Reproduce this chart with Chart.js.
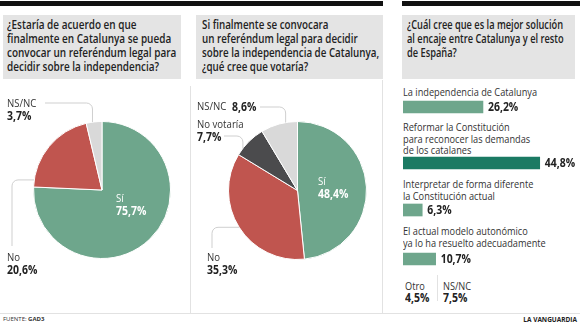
<!DOCTYPE html>
<html>
<head>
<meta charset="utf-8">
<script src="https://cdn.jsdelivr.net/npm/chart.js@4.4.1/dist/chart.umd.min.js"></script>
<style>
  html, body { margin: 0; padding: 0; background: #fff; }
  body { width: 580px; height: 326px; position: relative; overflow: hidden;
    font-family: "Open Sans", sans-serif; color: #222; }
  .abs { position: absolute; }
  .rule { background: #111; height: 5px; top: 1px; }
  .title { background: #e4e4e4; top: 15px; height: 64px; box-sizing: border-box; padding-top: 3px; }
  .title span { display: block; font-size: 12.5px; font-weight: 600; line-height: 14px; white-space: nowrap;
    color: #222; transform-origin: 0 0; }
  .vline { background: #e2e2e2; width: 1px; }
  .row { left: 403px; font-size: 11px; line-height: 11.6px; color: #333; white-space: nowrap; transform-origin: 0 0; }
  .sm { font-size: 11px; line-height: 11px; color: #333; transform-origin: 0 0; }
  .sm b { font-size: 12.5px; color: #222; display: block; margin-top: 1px; }
  canvas { position: absolute; }
</style>
</head>
<body>
<div class="abs rule" style="left:0;width:383px"></div>
<div class="abs rule" style="left:402px;width:178px"></div>

<div class="abs title" style="left:3px;width:178px;padding-left:4px"><span data-w="169">¿Estaría de acuerdo en que<br>finalmente en Catalunya se pueda<br>convocar un referéndum legal para<br>decidir sobre la independencia?</span></div>
<div class="abs title" style="left:196px;width:187px;padding-left:6px"><span data-w="177">Si finalmente se convocara<br>un referéndum legal para decidir<br>sobre la independencia de Catalunya,<br>¿qué cree que votaría?</span></div>
<div class="abs title" style="left:402px;width:173px;padding-left:5px"><span data-w="157">¿Cuál cree que es la mejor solución<br>al encaje entre Catalunya y el resto<br>de España?</span></div>

<div class="abs vline" style="left:190px;top:86px;height:227px"></div>
<div class="abs vline" style="left:382px;top:80px;height:233px"></div>
<div class="abs" style="left:0;top:313px;width:580px;height:1px;background:#e2e2e2"></div>

<canvas id="pie1" width="190" height="233" style="left:0;top:80px"></canvas>
<canvas id="pie2" width="192" height="233" style="left:190px;top:80px"></canvas>
<div id="bars"></div>

<div class="abs sm" id="s0" style="left:405px;top:280px"></div>
<div class="abs vline" style="left:437px;top:275px;height:26px"></div>
<div class="abs sm" id="s1" style="left:443px;top:280px"></div>

<div class="abs" style="left:3px;top:315px;font-size:6px;color:#333">FUENTE: <b>GAD3</b></div>
<div class="abs" style="right:3px;top:315px;font-size:6.5px;font-weight:bold;color:#222">LA VANGUARDIA</div>

<script>
// survey values (percent)
const pieOneLabels = ["Sí", "No", "NS/NC"];
const pieOneValues = [75.7, 20.6, 3.7];
const pieTwoLabels = ["Sí", "No", "No votaría", "NS/NC"];
const pieTwoValues = [48.4, 35.3, 7.7, 8.6];
const barLabels = [
  ["La independencia de Catalunya"],
  ["Reformar la Constitución", "para reconocer las demandas", "de los catalanes"],
  ["Interpretar de forma diferente", "la Constitución actual"],
  ["El actual modelo autonómico", "ya lo ha resuelto adecuadamente"],
];
const barValues = [26.2, 44.8, 6.3, 10.7];
const otherLabels = ["Otro", "NS/NC"];
const otherValues = [4.5, 7.5];

const C = { green: "#6ea68c", teal: "#1b7a63", red: "#c0554f", light: "#d9d9d9", dark: "#4b4b4d", line: "#cfcfcf" };
const FONT = '"Open Sans", sans-serif';
const fmt = (v) => v.toFixed(1).replace(".", ",") + "%";
const base = { responsive: false, animation: false, devicePixelRatio: 1, events: [],
  plugins: { legend: { display: false }, tooltip: { enabled: false } } };

// the paper uses a condensed face; squeeze Open Sans to the same widths
const probe = document.createElement("canvas").getContext("2d");
function fitScale(str, font, w) { probe.font = font; return w / probe.measureText(str).width; }
const SX = fitScale("La independencia de Catalunya", "11px " + FONT, 134);
document.querySelectorAll(".title span").forEach((el) => {
  el.style.transform = "scaleX(" + (+el.dataset.w / el.scrollWidth) + ")";
});

function squeezed(ctx, txt, x, y) {
  ctx.save(); ctx.translate(x, y); ctx.scale(SX, 1); ctx.fillText(txt, 0, 0); ctx.restore();
}

// labels + leader lines for a pie; spot per slice (canvas coords)
function pieText(spots) {
  return {
    id: "pieText",
    afterDatasetsDraw(chart) {
      const ctx = chart.ctx, arcs = chart.getDatasetMeta(0).data;
      const names = chart.data.labels, vals = chart.data.datasets[0].data;
      ctx.save();
      ctx.textBaseline = "middle";
      spots.forEach((s, i) => {
        const a = arcs[i];
        if (s.lead) {
          const L = s.lead;
          const ang = a.startAngle + (a.endAngle - a.startAngle) * L.f;
          const px = a.x + a.outerRadius * Math.cos(ang), py = a.y + a.outerRadius * Math.sin(ang);
          const ex = L.dir === "down" ? px : L.x, ey = L.dir === "down" ? L.y : py;
          ctx.beginPath(); ctx.strokeStyle = C.line; ctx.lineWidth = 1;
          ctx.moveTo(L.x, L.y); ctx.arcTo(ex, ey, px, py, 6); ctx.lineTo(px, py); ctx.stroke();
        }
        ctx.fillStyle = s.inside ? "#fff" : "#333";
        ctx.font = "11.5px " + FONT;
        squeezed(ctx, names[i], s.x, s.y);
        ctx.fillStyle = s.inside ? "#fff" : "#222";
        ctx.font = "bold 12.5px " + FONT;
        if (s.inline) squeezed(ctx, fmt(vals[i]), s.inline, s.y);
        else squeezed(ctx, fmt(vals[i]), s.x, s.y + 12);
      });
      ctx.restore();
    },
  };
}

function pie(id, labels, values, colors, pad, spots) {
  new Chart(document.getElementById(id), {
    type: "pie",
    data: { labels, datasets: [{ data: values, backgroundColor: colors, borderColor: "#fff", borderWidth: 1 }] },
    options: { ...base, layout: { padding: pad } },
    plugins: [pieText(spots)],
  });
}

pie("pie1", pieOneLabels, pieOneValues, [C.green, C.red, C.light],
  { left: 33, right: 19, top: 41, bottom: 54 }, [
    { x: 116, y: 119, inside: true },
    { x: 7, y: 178, lead: { x: 12, y: 166, dir: "up", f: 0.08 } },
    { x: 7, y: 24, lead: { x: 45, y: 23, dir: "down", f: 0.4 } },
  ]);

pie("pie2", pieTwoLabels, pieTwoValues, [C.green, C.red, C.dark, C.light],
  { left: 38, right: 15, top: 41, bottom: 53 }, [
    { x: 128, y: 102, inside: true },
    { x: 17, y: 178, lead: { x: 22, y: 168, dir: "up", f: 0.5 } },
    { x: 7, y: 45, lead: { x: 34, y: 56, dir: "down", f: 0.23 } },
    { x: 7, y: 27, inline: 42, lead: { x: 70, y: 27, dir: "down", f: 0.68 } },
  ]);

/* ---------- bars: one row per answer ---------- */
const rowTops = [86, 121, 178, 225];
const barMids = [107, 163, 209.5, 258.5];
const maxVal = Math.max(...barValues);
const wrap = document.getElementById("bars");
const valueText = {
  id: "valueText",
  afterDatasetsDraw(chart) {
    const ctx = chart.ctx, bar = chart.getDatasetMeta(0).data[0];
    ctx.save(); ctx.fillStyle = "#222"; ctx.font = "bold 12.5px " + FONT; ctx.textBaseline = "middle";
    squeezed(ctx, fmt(chart.data.datasets[0].data[0]), bar.x + 5, bar.y + 0.5);
    ctx.restore();
  },
};
barValues.forEach((v, i) => {
  const lab = document.createElement("div");
  lab.className = "abs row"; lab.style.top = rowTops[i] + "px";
  lab.style.transform = "scaleX(" + SX + ")";
  lab.innerHTML = barLabels[i].join("<br>");
  wrap.appendChild(lab);
  const cv = document.createElement("canvas");
  cv.width = 177; cv.height = 14;
  cv.style.left = "403px"; cv.style.top = (barMids[i] - 7) + "px";
  wrap.appendChild(cv);
  new Chart(cv, {
    type: "bar",
    data: { labels: [""], datasets: [{ data: [v], backgroundColor: v === maxVal ? C.teal : C.green, barThickness: 12 }] },
    options: { ...base, indexAxis: "y", layout: { padding: 0 },
      scales: { x: { min: 0, max: 58, display: false }, y: { display: false } } },
    plugins: [valueText],
  });
});

otherValues.forEach((v, i) => {
  const el = document.getElementById("s" + i);
  el.innerHTML = otherLabels[i] + "<b>" + fmt(v) + "</b>";
  el.style.transform = "scaleX(" + SX + ")";
});
</script>
</body>
</html>
